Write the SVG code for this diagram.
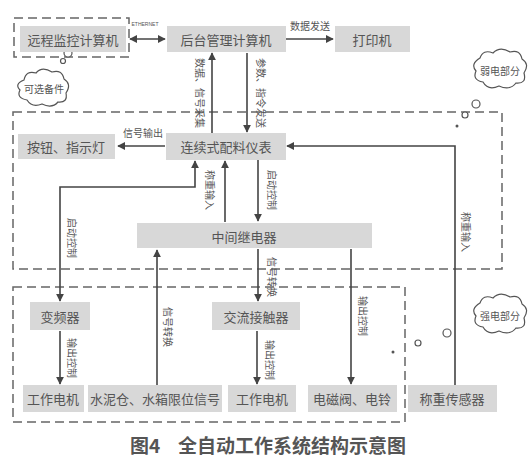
<svg xmlns="http://www.w3.org/2000/svg" width="531" height="469" viewBox="0 0 531 469">
<style>
.n{fill:#d8d8d8}
.t{font-family:"Noto Sans CJK SC","Liberation Sans",sans-serif;font-size:13px;fill:#555;text-anchor:middle;dominant-baseline:central}
.l{font-family:"Noto Sans CJK SC","Liberation Sans",sans-serif;font-size:10px;fill:#555;text-anchor:middle;dominant-baseline:central}
.w{fill:none;stroke:#444;stroke-width:1.6}
.d{fill:none;stroke:#666;stroke-width:1.5;stroke-dasharray:9 5}
.c{fill:#fff;stroke:#555;stroke-width:1.2}
.cap{font-family:"Noto Sans CJK SC","Liberation Sans",sans-serif;font-size:19px;font-weight:bold;fill:#555}
</style>
<defs>
<marker id="a" viewBox="0 0 10 10" refX="9" refY="5" markerWidth="5" markerHeight="5" orient="auto-start-reverse" markerUnits="strokeWidth">
<path d="M0,0 L10,5 L0,10 z" fill="#444"/>
</marker>
</defs>
<rect width="531" height="469" fill="#fff"/>

<g id="boxes">
<rect class="d" x="14" y="18" width="115" height="39"/>
<rect class="d" x="13" y="112" width="489" height="157"/>
<rect class="d" x="13" y="287" width="392" height="135"/>
</g>

<g id="clouds">
<g id="cloud-optional">
<path class="c" d="M24,80 Q26,70 36,73 Q42,66 52,72 Q62,69 64,79 Q72,84 66,93 Q68,103 58,102 Q52,109 42,104 Q32,108 27,100 Q16,98 20,90 Q14,84 24,80 z"/>
<text class="l" x="44" y="88">可选备件</text>
<circle class="c" cx="68" cy="53" r="4"/>
<circle class="c" cx="63" cy="61" r="2.5"/>
</g>
<g id="cloud-weak">
<path class="c" d="M480,58 Q483,49 493,53 Q500,46 510,52 Q520,49 522,59 Q530,64 524,73 Q527,84 516,83 Q510,91 499,86 Q488,91 483,82 Q472,80 476,71 Q470,64 480,58 z"/>
<text class="l" x="500" y="70">弱电部分</text>
<circle class="c" cx="476" cy="104" r="4"/>
<circle class="c" cx="465" cy="115" r="3"/>
<circle fill="#555" cx="457" cy="126" r="1.5"/>
</g>
<g id="cloud-strong">
<path class="c" d="M480,303 Q483,294 493,298 Q500,291 510,297 Q520,294 522,304 Q530,309 524,318 Q527,329 516,328 Q510,336 499,331 Q488,336 483,327 Q472,325 476,316 Q470,309 480,303 z"/>
<text class="l" x="500" y="315">强电部分</text>
<circle class="c" cx="447" cy="333" r="4"/>
<circle class="c" cx="418" cy="343" r="3"/>
<circle fill="#555" cx="393" cy="352" r="1.5"/>
</g>
</g>

<g id="connectors">
<line class="w" x1="130" y1="39" x2="165" y2="39" marker-start="url(#a)" marker-end="url(#a)"/>
<text x="145" y="26" style="font-family:'Liberation Sans',sans-serif;font-size:5px;fill:#555;text-anchor:middle">ETHERNET</text>
<line class="w" x1="286" y1="39" x2="333" y2="39" marker-end="url(#a)"/>
<text class="l" x="310" y="25">数据发送</text>
<line class="w" x1="212" y1="133" x2="212" y2="53" marker-end="url(#a)"/>
<text class="l" transform="translate(200,93) rotate(90)">数据、信号采集</text>
<line class="w" x1="247" y1="53" x2="247" y2="132" marker-end="url(#a)"/>
<text class="l" transform="translate(261,93) rotate(90)">参数、指令发送</text>
<line class="w" x1="165" y1="146" x2="118" y2="146" marker-end="url(#a)"/>
<text class="l" x="143" y="132">信号输出</text>
<polyline class="w" points="455,386 455,146 287,146" marker-end="url(#a)"/>
<text class="l" transform="translate(466,232) rotate(90)">称重输入</text>
<polyline class="w" points="195,161 195,187 60,187 60,301" marker-start="url(#a)" marker-end="url(#a)"/>
<text class="l" transform="translate(72,238) rotate(90)">启动控制</text>
<line class="w" x1="225" y1="222" x2="225" y2="161" marker-end="url(#a)"/>
<text class="l" transform="translate(210,190) rotate(90)">称重输入</text>
<line class="w" x1="258" y1="160" x2="258" y2="221" marker-end="url(#a)"/>
<text class="l" transform="translate(272,190) rotate(90)">启动控制</text>
<line class="w" x1="157" y1="385" x2="157" y2="250" marker-end="url(#a)"/>
<text class="l" transform="translate(168,327) rotate(90)">信号转换</text>
<line class="w" x1="258" y1="249" x2="258" y2="301" marker-end="url(#a)"/>
<text class="l" transform="translate(272,277) rotate(90)">信号转换</text>
<line class="w" x1="351" y1="249" x2="351" y2="384" marker-end="url(#a)"/>
<text class="l" transform="translate(363,316) rotate(90)">输出控制</text>
<line class="w" x1="60" y1="331" x2="60" y2="384" marker-end="url(#a)"/>
<text class="l" transform="translate(72,358) rotate(90)">输出控制</text>
<line class="w" x1="257" y1="331" x2="257" y2="384" marker-end="url(#a)"/>
<text class="l" transform="translate(270,360) rotate(90)">输出控制</text>
</g>

<g id="n-remote"><rect class="n" x="20" y="26" width="106" height="26"/><text class="t" x="73" y="39">远程监控计算机</text></g>
<g id="n-backend"><rect class="n" x="167" y="26" width="119" height="26"/><text class="t" x="226" y="39">后台管理计算机</text></g>
<g id="n-printer"><rect class="n" x="335" y="26" width="75" height="26"/><text class="t" x="372" y="39">打印机</text></g>
<g id="n-button"><rect class="n" x="18" y="134" width="97" height="25"/><text class="t" x="66" y="146">按钮、指示灯</text></g>
<g id="n-meter"><rect class="n" x="166" y="133" width="120" height="27"/><text class="t" x="226" y="146">连续式配料仪表</text></g>
<g id="n-relay"><rect class="n" x="137" y="223" width="235" height="25"/><text class="t" x="244" y="236">中间继电器</text></g>
<g id="n-vfd"><rect class="n" x="30" y="302" width="60" height="28"/><text class="t" x="60" y="316">变频器</text></g>
<g id="n-contactor"><rect class="n" x="212" y="302" width="88" height="28"/><text class="t" x="256" y="316">交流接触器</text></g>
<g id="n-motor1"><rect class="n" x="23" y="385" width="61" height="27"/><text class="t" x="53" y="398">工作电机</text></g>
<g id="n-limit"><rect class="n" x="88" y="385" width="134" height="27"/><text class="t" x="155" y="398">水泥仓、水箱限位信号</text></g>
<g id="n-motor2"><rect class="n" x="228" y="385" width="68" height="27"/><text class="t" x="262" y="398">工作电机</text></g>
<g id="n-valve"><rect class="n" x="308" y="385" width="89" height="27"/><text class="t" x="352" y="398">电磁阀、电铃</text></g>
<g id="n-sensor"><rect class="n" x="408" y="385" width="89" height="27"/><text class="t" x="452" y="398">称重传感器</text></g>

<text class="cap" x="130" y="453">图4<tspan x="178">全自动工作系统结构示意图</tspan></text>
</svg>
